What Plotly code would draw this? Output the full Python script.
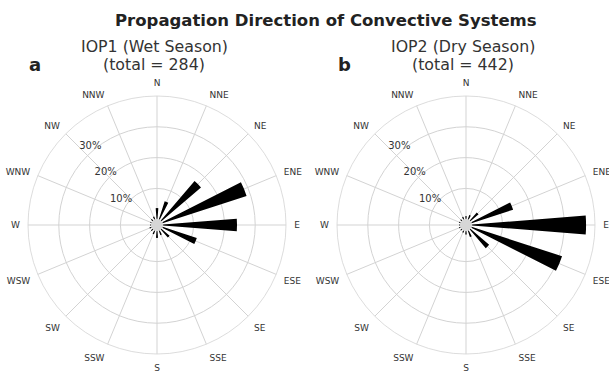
import plotly.graph_objects as go

directions = ["N", "NNE", "NE", "ENE", "E", "ESE", "SE", "SSE",
              "S", "SSW", "SW", "WSW", "W", "WNW", "NW", "NNW"]
angles_deg = [0, 22.5, 45, 67.5, 90, 112.5, 135, 157.5,
              180, 202.5, 225, 247.5, 270, 292.5, 315, 337.5]

# percentage of systems per propagation direction
iop1_pct = [3.6, 6.2, 16.9, 28.7, 24.1, 11.7, 3.5, 1.6,
            2.3, 1.3, 0.7, 0.7, 0.4, 0.4, 0.7, 1.0]
iop2_pct = [1.0, 1.5, 3.5, 14.2, 37.1, 30.9, 8.0, 2.2,
            1.2, 0.8, 0.5, 0.5, 0.4, 0.5, 0.6, 0.9]

radial_ticks = [10, 20, 30]
radial_ticktext = ["10%", "20%", "30%"]
title_line1 = ["IOP1 (Wet Season)", "IOP2 (Dry Season)"]
title_line2 = ["(total = 284)", "(total = 442)"]
panel_letters = ["a", "b"]

FONT = "DejaVu Sans"
W, H = 609, 371
R = 129
centers = [(157, 225), (466, 225)]

fig = go.Figure()
for i, vals in enumerate([iop1_pct, iop2_pct]):
    fig.add_trace(go.Barpolar(
        r=vals, theta=angles_deg, width=[9] * len(vals),
        marker=dict(color="black", line=dict(width=0)),
        subplot="polar" if i == 0 else "polar2",
        showlegend=False, hoverinfo="skip"))

def polar_layout(cx, cy):
    return dict(
        domain=dict(x=[(cx - R) / W, (cx + R) / W],
                    y=[(H - cy - R) / H, (H - cy + R) / H]),
        bgcolor="white",
        hole=0.045,
        radialaxis=dict(range=[0, 40], tickmode="array", tickvals=radial_ticks,
                        ticktext=radial_ticktext, angle=120, tickangle=120,
                        side="counterclockwise",
                        showline=False, ticks="", gridcolor="#d3d3d3", gridwidth=0.8,
                        tickfont=dict(family=FONT, size=10, color="#333333")),
        angularaxis=dict(direction="clockwise", rotation=90, thetaunit="degrees",
                         tickmode="array", tickvals=angles_deg, ticktext=directions,
                         showline=True, linecolor="#d3d3d3", linewidth=0.8,
                         gridcolor="#d3d3d3", gridwidth=0.8,
                         ticks="outside", ticklen=6, tickcolor="rgba(0,0,0,0)",
                         tickfont=dict(family=FONT, size=9, color="#333333")),
    )

annotations = [dict(text="<b>Propagation Direction of Convective Systems</b>",
                    x=326 / W, y=1 - 20 / H, xref="paper", yref="paper",
                    showarrow=False, font=dict(family=FONT, size=16.5, color="#222222"),
                    xanchor="center", yanchor="middle")]
shapes = []
title_x = [154, 463]
for (cx, cy), tx, t1, t2, letter in zip(centers, title_x, title_line1, title_line2, panel_letters):
    for txt, ty in ((t1, 47), (t2, 64)):
        annotations.append(dict(text=txt, x=tx / W, y=1 - ty / H, xref="paper", yref="paper",
                                showarrow=False, font=dict(family=FONT, size=15.8, color="#333333"),
                                xanchor="center", yanchor="middle"))
    annotations.append(dict(text="<b>" + letter + "</b>", x=(cx - 122) / W, y=1 - 64 / H,
                            xref="paper", yref="paper", showarrow=False,
                            font=dict(family=FONT, size=18, color="#222222"),
                            xanchor="center", yanchor="middle"))
    shapes.append(dict(type="circle", xref="paper", yref="paper",
                       x0=(cx - 6) / W, x1=(cx + 6) / W,
                       y0=(H - cy - 6) / H, y1=(H - cy + 6) / H,
                       fillcolor="#d6d6d6", line=dict(width=0), layer="below"))

fig.update_layout(
    width=W, height=H, margin=dict(l=0, r=0, t=0, b=0),
    paper_bgcolor="white", plot_bgcolor="white",
    polar=polar_layout(*centers[0]), polar2=polar_layout(*centers[1]),
    annotations=annotations, shapes=shapes,
    font=dict(family=FONT),
)
fig.write_html("out.html")
